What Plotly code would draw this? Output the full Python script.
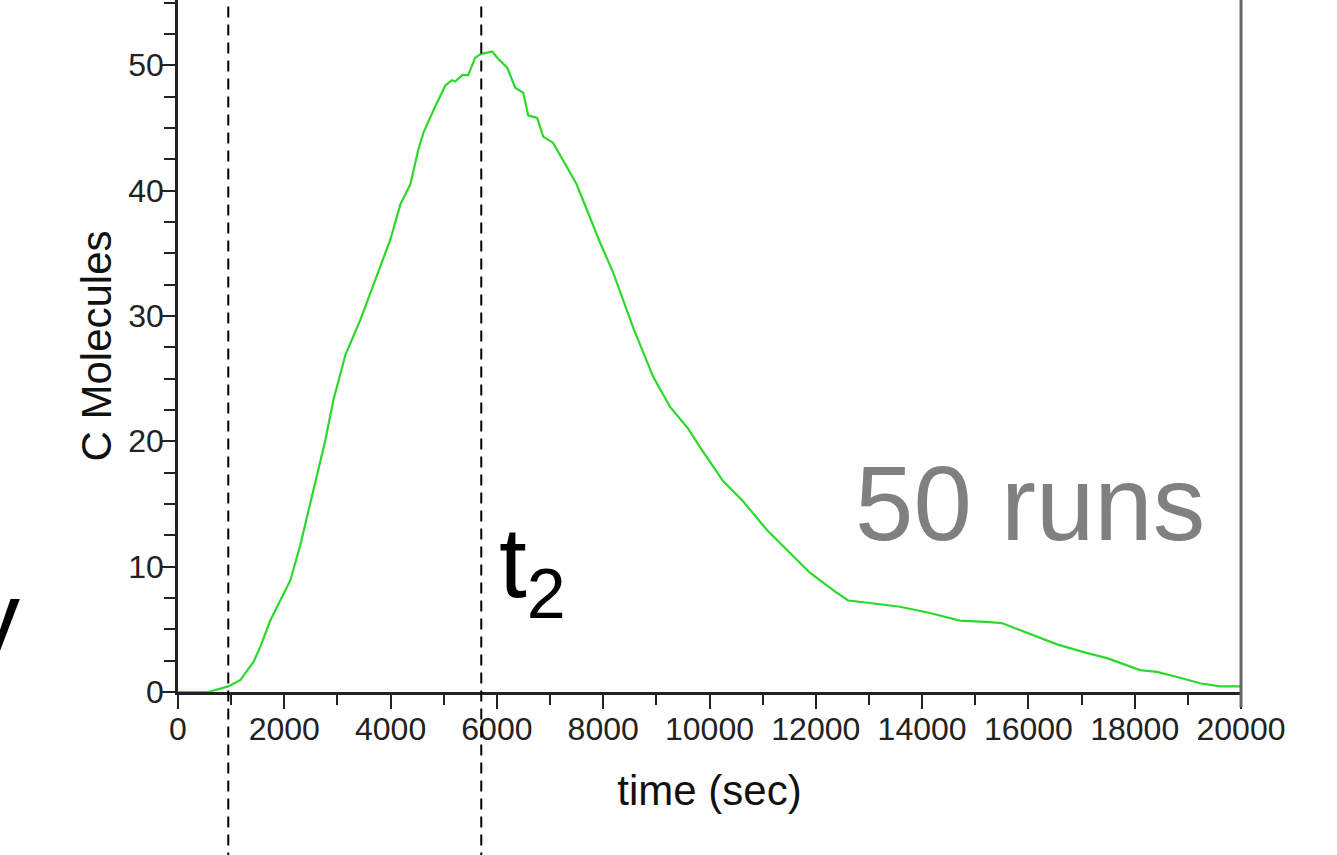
import plotly.graph_objects as go

# ---- data ----
time_sec = [0, 570, 946, 1175, 1420, 1548, 1736, 1924, 2113, 2300, 2585, 2773, 2924,
            3150, 3432, 3714, 3996, 4184, 4372, 4523, 4617, 4806, 5032, 5158, 5216,
            5347, 5460, 5592, 5705, 5818, 5912, 6006, 6194, 6345, 6495, 6589, 6758,
            6871, 7059, 7500, 7946, 8193, 8569, 8945, 9265, 9582, 9827, 10259, 10635,
            11086, 11518, 11894, 12364, 12610, 13020, 13585, 14148, 14710, 15200,
            15500, 15800, 16100, 16540, 17105, 17480, 18100, 18420, 18800, 19230,
            19610, 20000]
c_molecules = [0, 0, 0.45, 0.96, 2.4, 3.6, 5.7, 7.3, 8.9, 11.7, 16.9, 20.1, 23.3,
               26.9, 29.7, 32.9, 36.1, 38.9, 40.5, 43.3, 44.6, 46.4, 48.4, 48.8, 48.7,
               49.2, 49.2, 50.6, 50.9, 51.0, 51.1, 50.6, 49.8, 48.2, 47.8, 46.0, 45.8,
               44.3, 43.8, 40.5, 35.8, 33.4, 29.0, 25.1, 22.7, 21.1, 19.5, 16.8, 15.2,
               12.9, 11.1, 9.5, 8.0, 7.3, 7.1, 6.8, 6.3, 5.7, 5.6,
               5.5, 5.0, 4.5, 3.8, 3.1, 2.7, 1.75, 1.6, 1.2, 0.7,
               0.45, 0.45]
marker_times = [946, 5706]          # dashed vertical lines
x_tickvals = list(range(0, 20001, 2000))
y_tickvals = [0, 10, 20, 30, 40, 50]
x_max = 20000
y_max = 55.2

FONT = "Liberation Sans, Arial, Helvetica, sans-serif"
AX = "#222222"

fig = go.Figure()
fig.add_trace(go.Scatter(
    x=time_sec, y=c_molecules, mode="lines",
    line=dict(color="#2cd82c", width=2.2),
    showlegend=False, hoverinfo="skip"))

shapes = []
for t in marker_times:
    shapes.append(dict(type="line", xref="x", yref="paper", x0=t, x1=t,
                       y0=-0.3, y1=1.0,
                       line=dict(color="black", width=2, dash="11px,7px")))
# right frame line at the end of the x domain
shapes.append(dict(type="line", xref="x domain", yref="paper", x0=1, x1=1,
                   y0=-0.022, y1=1.0, line=dict(color="#666666", width=3)))

fig.update_layout(
    width=1337, height=855,
    margin=dict(l=178, r=96, t=0, b=163),
    paper_bgcolor="white", plot_bgcolor="white",
    font=dict(family=FONT, color=AX),
    shapes=shapes,
    annotations=[
        dict(text="50 runs", xref="x", yref="y", x=16030, y=15.0,
             xanchor="center", yanchor="middle", showarrow=False,
             font=dict(size=105, color="#808080", family=FONT)),
        dict(text="t<sub>2</sub>", xref="x", yref="y", x=6000, y=9.8,
             xanchor="left", yanchor="middle", showarrow=False,
             font=dict(size=100, color="black", family=FONT)),
        dict(text="y", xref="paper", yref="y", x=-0.147, y=6.0,
             xanchor="right", yanchor="middle", showarrow=False,
             font=dict(size=100, color="black", family=FONT)),
    ],
)

fig.update_xaxes(
    range=[0, x_max], tickvals=x_tickvals, ticktext=[str(v) for v in x_tickvals],
    ticks="outside", ticklen=14, tickwidth=2, tickcolor=AX,
    minor=dict(dtick=1000, ticks="outside", ticklen=10, tickwidth=2, tickcolor=AX),
    showline=True, linewidth=2.5, linecolor=AX,
    showgrid=False, zeroline=False,
    tickfont=dict(size=32, family=FONT, color=AX),
    ticklabelstandoff=-7,
    title=dict(text="time (sec)", font=dict(size=42, family=FONT, color="#111"), standoff=30),
    automargin=False,
)
fig.update_yaxes(
    range=[0, y_max], tickvals=y_tickvals,
    ticks="outside", ticklen=13, tickwidth=2, tickcolor=AX,
    minor=dict(dtick=2.5, ticks="outside", ticklen=11, tickwidth=2, tickcolor=AX),
    showline=True, linewidth=2.5, linecolor=AX,
    showgrid=False, zeroline=False,
    tickfont=dict(size=32, family=FONT, color=AX),
    ticklabelstandoff=-8,
    title=dict(text="C Molecules", font=dict(size=42, family=FONT, color="#111"), standoff=4),
    automargin=False,
)

fig.write_html("out.html", config={"displayModeBar": False},
               post_script="document.body.style.margin='0';")
